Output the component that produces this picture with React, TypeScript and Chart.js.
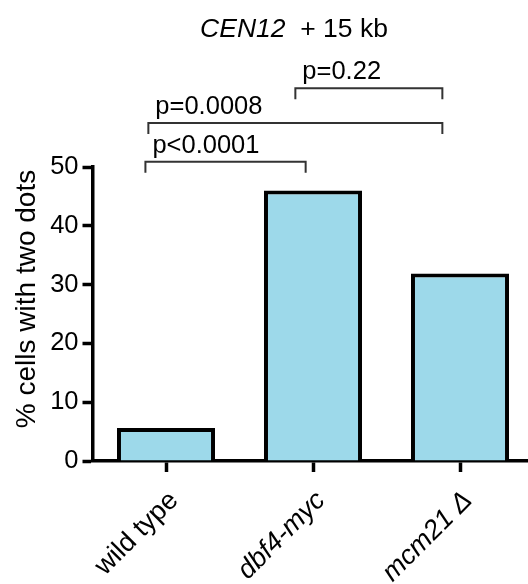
import React, { useEffect, useRef } from "react";
import { Chart, registerables } from "chart.js";

Chart.register(...registerables);

// ---- data ----
const categories = ["wild type", "dbf4-myc", "mcm21 Δ"];
const italicCategory = [false, true, true];
const values = [5.6, 46.0, 31.9];
const yMin = 0;
const yMax = 50;
const yStep = 10;

const titleItalic = "CEN12";
const titleRest = "+ 15 kb";
const yTitle = "% cells with two dots";

const pLabels = ["p<0.0001", "p=0.0008", "p=0.22"];
const pFrom = [-0.14, -0.12, 0.88];
const pTo = [0.95, 1.88, 1.88];
const pLevel = [50.9, 57.5, 63.4];

const FONT = '"Liberation Sans", Arial, Helvetica, sans-serif';
const BAR_FILL = "#9dd9ea";

const overlay = {
  id: "overlay",
  afterDraw(chart: any) {
    const ctx = chart.ctx as CanvasRenderingContext2D;
    const xs = chart.scales.x;
    const ys = chart.scales.y;
    ctx.save();
    ctx.fillStyle = "#000";

    // title
    ctx.textBaseline = "alphabetic";
    ctx.textAlign = "left";
    ctx.font = `italic 26.5px ${FONT}`;
    const w1 = ctx.measureText(titleItalic).width;
    ctx.font = `26.5px ${FONT}`;
    const gap = ctx.measureText("  ").width;
    const w2 = ctx.measureText(titleRest).width;
    const total = w1 + gap + w2;
    const tx = 294 - total / 2;
    ctx.font = `italic 26.5px ${FONT}`;
    ctx.fillText(titleItalic, tx, 37);
    ctx.font = `26.5px ${FONT}`;
    ctx.fillText(titleRest, tx + w1 + gap, 37);

    // y title
    ctx.save();
    ctx.translate(27, 299);
    ctx.rotate(-Math.PI / 2);
    ctx.textAlign = "center";
    ctx.textBaseline = "middle";
    ctx.font = `28px ${FONT}`;
    ctx.fillText(yTitle, 0, 0);
    ctx.restore();

    // brackets
    const p0 = xs.getPixelForValue(0);
    const sp = xs.getPixelForValue(1) - p0;
    ctx.strokeStyle = "#333";
    ctx.lineWidth = 2;
    ctx.font = `25.5px ${FONT}`;
    ctx.textAlign = "left";
    ctx.textBaseline = "alphabetic";
    for (let i = 0; i < pLabels.length; i++) {
      const x1 = p0 + pFrom[i] * sp;
      const x2 = p0 + pTo[i] * sp;
      const yy = ys.getPixelForValue(pLevel[i]);
      ctx.beginPath();
      ctx.moveTo(x1, yy + 11);
      ctx.lineTo(x1, yy);
      ctx.lineTo(x2, yy);
      ctx.lineTo(x2, yy + 11);
      ctx.stroke();
      ctx.fillText(pLabels[i], x1 + 7, yy - 9);
    }
    ctx.restore();
  },
};

export default function App() {
  const ref = useRef<HTMLCanvasElement | null>(null);
  useEffect(() => {
    if (!ref.current) return;
    const chart = new Chart(ref.current, {
      type: "bar",
      data: {
        labels: categories,
        datasets: [
          {
            data: values,
            backgroundColor: BAR_FILL,
            borderColor: "#000",
            borderWidth: 4,
            borderSkipped: "start",
            categoryPercentage: 1,
            barPercentage: 0.667,
          },
        ],
      },
      options: {
        animation: false,
        responsive: false,
        devicePixelRatio: 1,
        layout: { padding: { left: 0, top: 167, right: 2.5, bottom: 0 } },
        plugins: {
          legend: { display: false },
          tooltip: { enabled: false },
          title: { display: false },
        },
        scales: {
          x: {
            afterFit: (s: any) => {
              s.height = 123;
            },
            border: { display: true, color: "#000", width: 3.5 },
            grid: {
              offset: false,
              drawOnChartArea: false,
              drawTicks: true,
              tickLength: 11,
              tickWidth: 3.5,
              tickColor: "#000",
            },
            ticks: {
              autoSkip: false,
              minRotation: 45,
              maxRotation: 45,
              padding: 13,
              labelOffset: 8,
              color: "#000",
              font: (c: any) => ({
                family: FONT,
                size: 27,
                style: italicCategory[c.index] ? "italic" : "normal",
              }),
            },
          },
          y: {
            min: yMin,
            max: yMax,
            afterFit: (s: any) => {
              s.width = 92.5;
            },
            border: { display: true, color: "#000", width: 3.5 },
            grid: {
              drawOnChartArea: false,
              drawTicks: true,
              tickLength: 10,
              tickWidth: 3.5,
              tickColor: "#000",
            },
            ticks: {
              stepSize: yStep,
              padding: 4,
              color: "#000",
              font: { family: FONT, size: 25.5 },
            },
          },
        },
      },
      plugins: [overlay],
    });
    return () => chart.destroy();
  }, []);
  return (
    <div
      style={{
        position: "absolute",
        left: 0,
        top: 0,
        width: 528,
        height: 584,
        overflow: "hidden",
        background: "#fff",
      }}
    >
      <canvas ref={ref} width={536} height={584} style={{ display: "block" }} />
    </div>
  );
}
